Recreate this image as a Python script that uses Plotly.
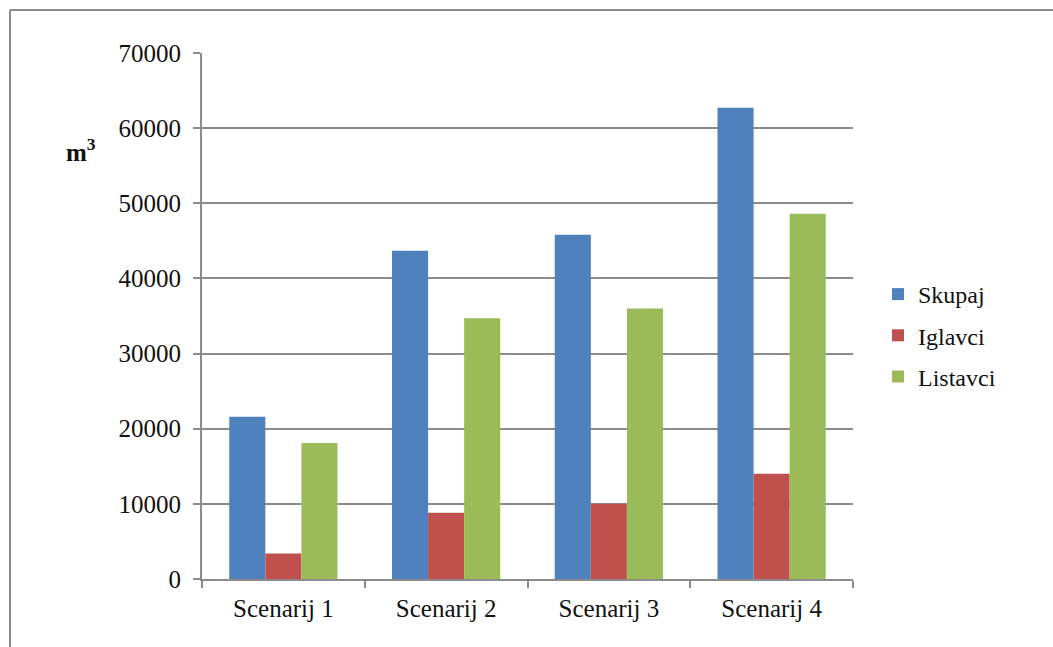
import plotly.graph_objects as go

categories = ["Scenarij 1", "Scenarij 2", "Scenarij 3", "Scenarij 4"]
skupaj = [21600, 43700, 45800, 62700]
iglavci = [3400, 8800, 10000, 14000]
listavci = [18100, 34700, 36000, 48600]
series_names = ["Skupaj", "Iglavci", "Listavci"]
colors = ["#4F81BD", "#C0504D", "#9BBB59"]
y_ticks = [0, 10000, 20000, 30000, 40000, 50000, 60000, 70000]

W, H = 1053, 647
ml, mr, mt, mb = 202, 200, 53, 68
pw, ph = W - ml - mr, H - mt - mb

fig = go.Figure()
for name, vals, c in zip(series_names, [skupaj, iglavci, listavci], colors):
    fig.add_trace(go.Bar(x=categories, y=vals, name=name, legendgroup=name,
                         marker=dict(color=c, line=dict(width=0))))

font = "Liberation Serif"
grid = "#8C8C8C"

def px_x(p):
    return (p - ml) / pw

def px_y(p):
    return (H - mb - p) / ph

fig.update_layout(
    width=W, height=H,
    margin=dict(l=ml, r=mr, t=mt, b=mb, pad=0),
    paper_bgcolor="white", plot_bgcolor="white",
    barmode="group", bargap=0.335, bargroupgap=0,
    font=dict(family=font, size=25, color="#111111"),
    showlegend=True,
    legend=dict(x=px_x(878), y=px_y(272), xanchor="left", yanchor="top",
                font=dict(family=font, size=24, color="#111111"),
                itemwidth=30, tracegroupgap=7, bgcolor="rgba(0,0,0,0)"),
    xaxis=dict(showline=True, linecolor=grid, linewidth=2, ticks="outside",
               tickson="boundaries", ticklen=7, tickcolor=grid, tickwidth=2,
               ticklabelstandoff=6,
               tickfont=dict(family=font, size=25), showgrid=False),
    yaxis=dict(range=[0, 70000], tickvals=y_ticks, ticktext=[str(v) for v in y_ticks],
               showline=True, linecolor=grid, linewidth=2,
               ticks="outside", ticklen=7, tickcolor=grid, tickwidth=2,
               ticklabelstandoff=7,
               showgrid=True, gridcolor=grid, gridwidth=2, zeroline=False,
               tickfont=dict(family=font, size=25)),
    shapes=[
        dict(type="line", xref="paper", yref="paper", x0=px_x(10), x1=px_x(W), y0=px_y(10), y1=px_y(10),
             line=dict(color="#8C8C8C", width=2)),
        dict(type="line", xref="paper", yref="paper", x0=px_x(10), x1=px_x(10), y0=px_y(10), y1=px_y(H),
             line=dict(color="#8C8C8C", width=2)),
    ],
    annotations=[
        dict(text="<b>m<sup>3</sup></b>", xref="paper", yref="paper", x=px_x(81), y=px_y(150),
             xanchor="center", yanchor="middle", showarrow=False,
             font=dict(family=font, size=25, color="#111111")),
    ],
)

fig.write_html("out.html")
